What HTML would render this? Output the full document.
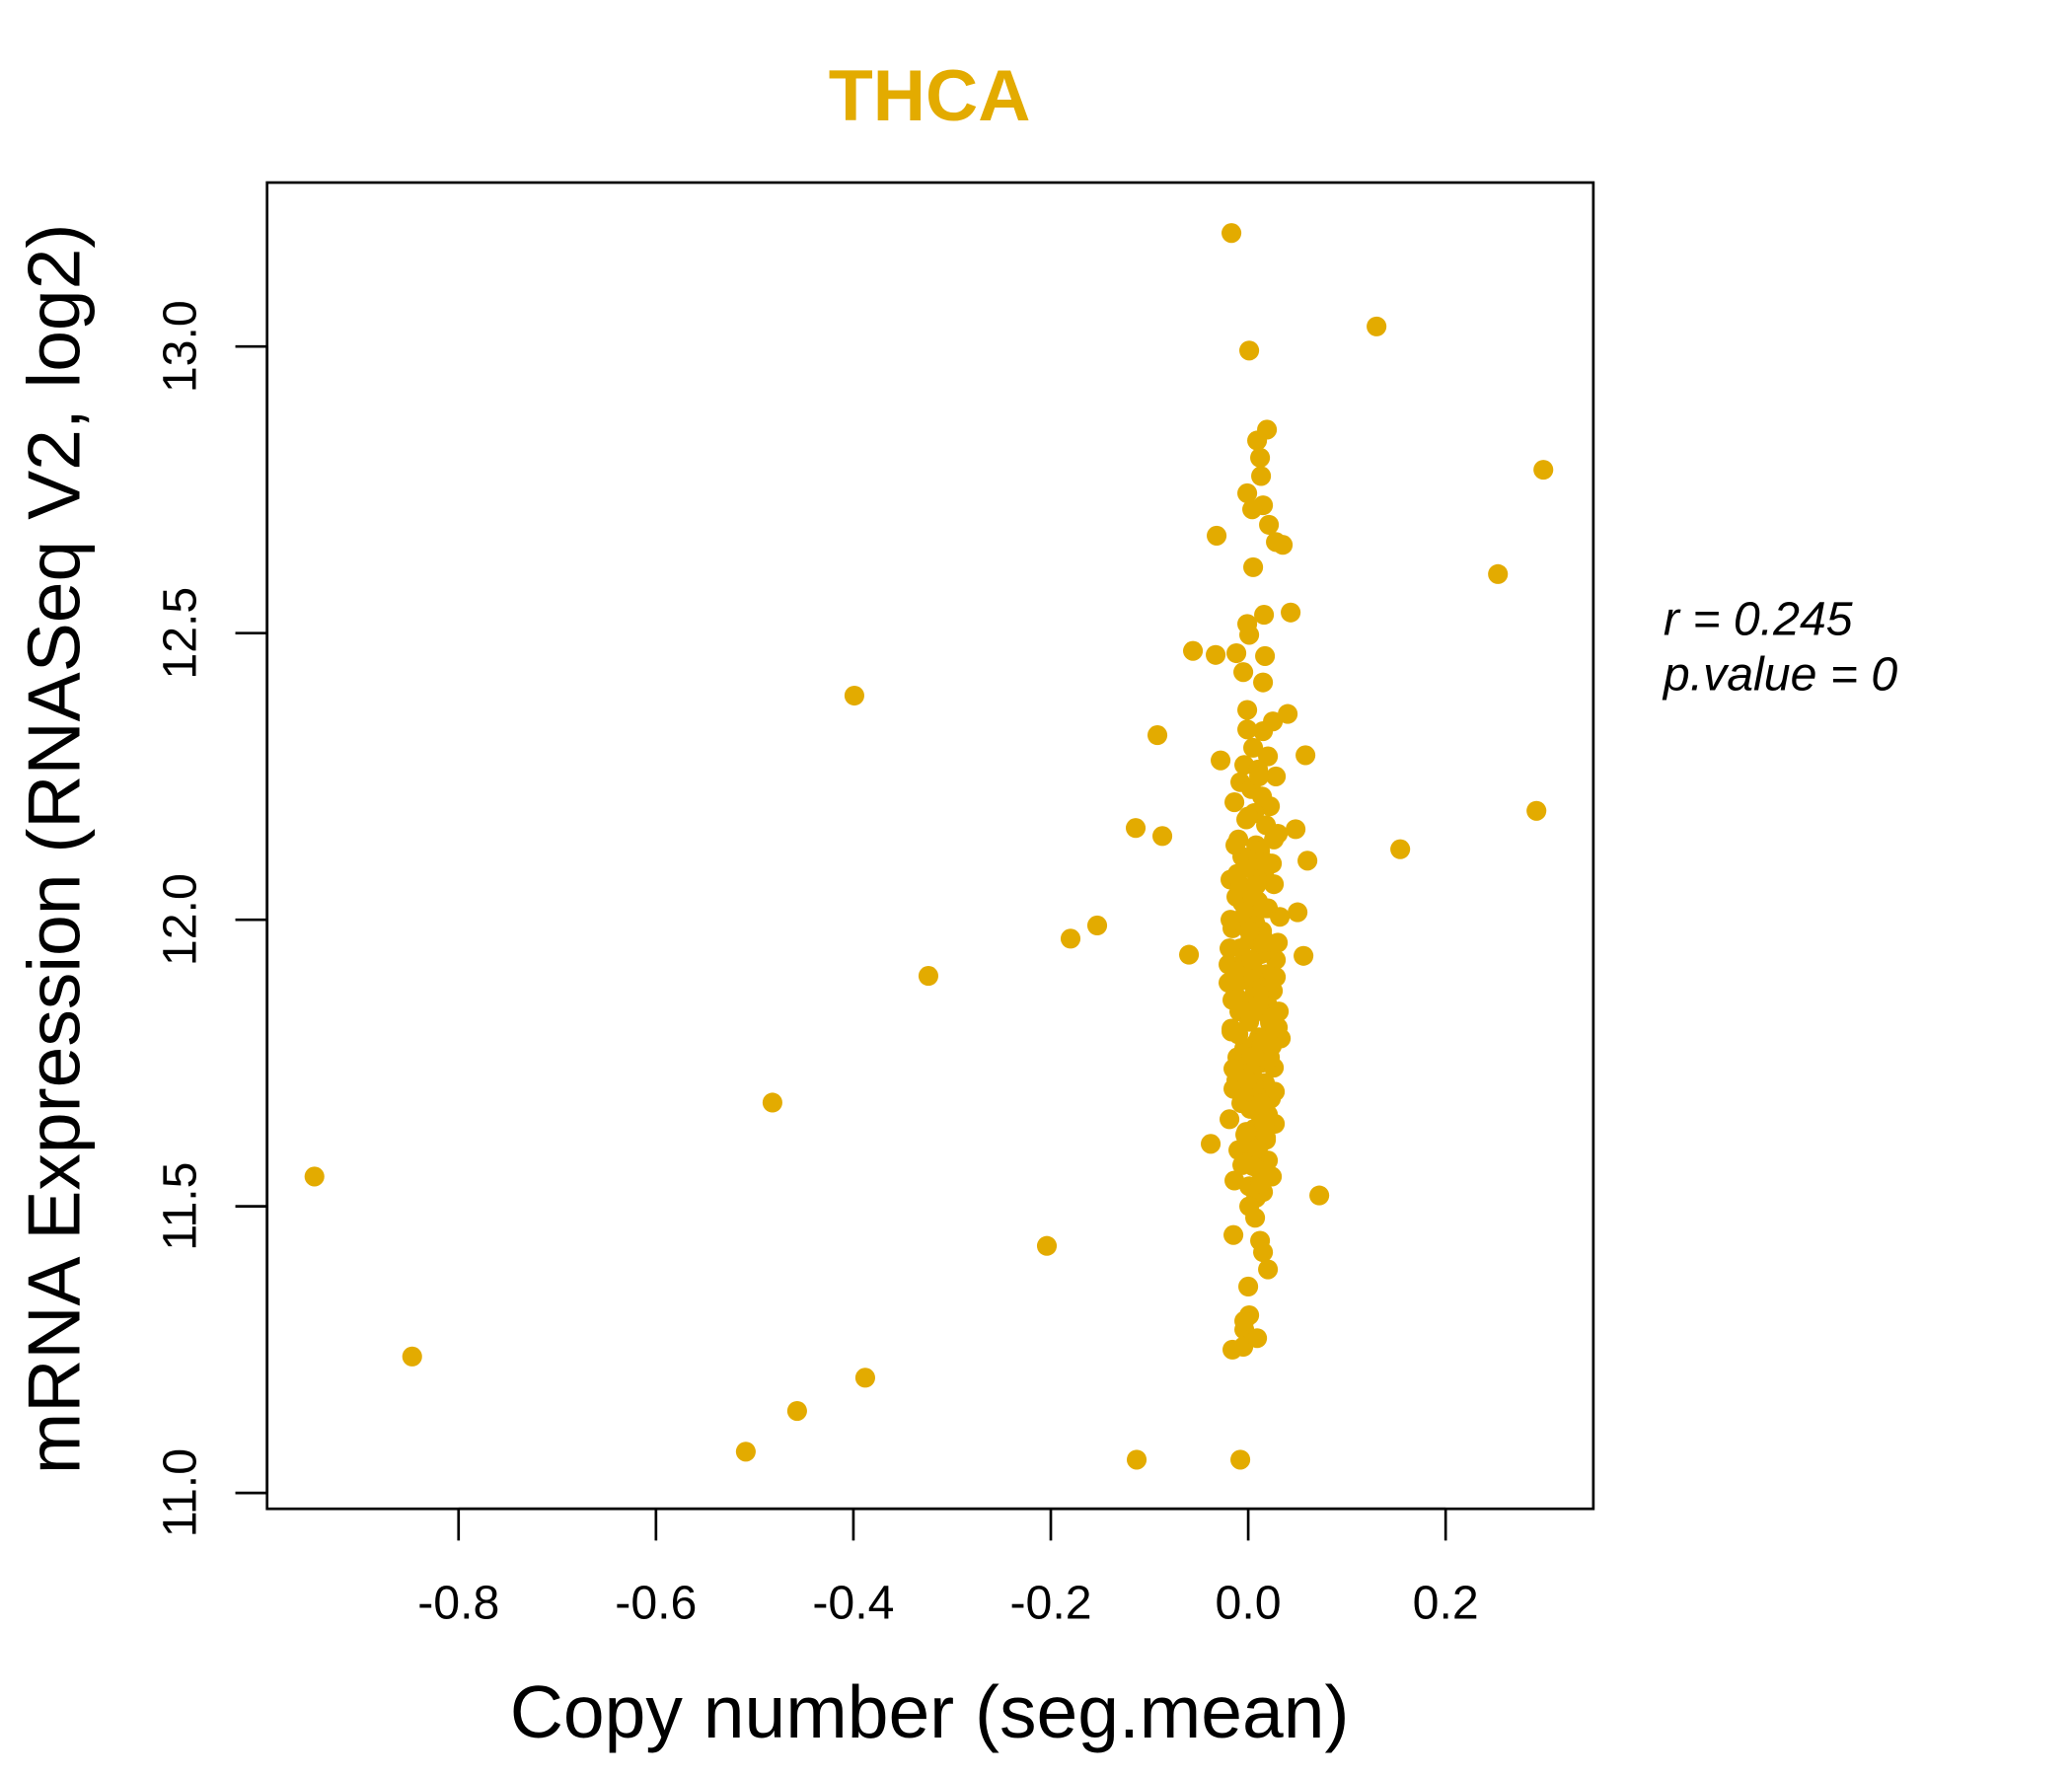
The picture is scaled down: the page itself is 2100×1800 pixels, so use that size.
<!DOCTYPE html>
<html><head><meta charset="utf-8"><style>
html,body{margin:0;padding:0;background:#fff}
svg{display:block}
text{font-family:"Liberation Sans",sans-serif}
</style></head><body>
<svg id="chart" width="2100" height="1800" viewBox="0 0 1567 1343" xmlns="http://www.w3.org/2000/svg">
<rect x="0" y="0" width="1567" height="1343" fill="#fff"/>
<text x="703" y="91" text-anchor="middle" font-size="55" font-weight="bold" fill="#e3ab00">THCA</text>
<g id="points"></g>
<rect x="202" y="138" width="1003" height="1003" fill="none" stroke="#000" stroke-width="2"/>
<g id="xaxis"></g>
<g id="yaxis"></g>
<text x="703" y="1314" text-anchor="middle" font-size="56">Copy number (seg.mean)</text>
<text transform="translate(60,642) rotate(-90)" text-anchor="middle" font-size="56">mRNA Expression (RNASeq V2, log2)</text>
<text x="1258" y="480" font-size="36" font-style="italic">r = 0.245</text>
<text x="1258" y="522" font-size="36" font-style="italic">p.value = 0</text>
</svg>
<script>
const xTicks = [-0.8, -0.6, -0.4, -0.2, 0.0, 0.2];
const xTickLabels = ["-0.8", "-0.6", "-0.4", "-0.2", "0.0", "0.2"];
const yTicks = [11.0, 11.5, 12.0, 12.5, 13.0];
const yTickLabels = ["11.0", "11.5", "12.0", "12.5", "13.0"];
const copyNumber = [
-0.017,0.130,0.001,0.299,0.253,-0.032,-0.399,-0.092,0.292,0.154,-0.114,-0.087,-0.153,-0.180,-0.324,-0.060,-0.482,-0.946,-0.038,0.072,-0.204,-0.847,-0.388,-0.457,-0.509,-0.113,-0.008,-0.056,-0.033,0.043,-0.028,0.058,0.060,0.048,0.050,0.056,0.033,
0.019,0.009,0.012,0.013,-0.001,0.015,0.004,0.021,0.028,0.035,0.005,0.016,-0.001,0.001,-0.012,0.017,-0.005,0.015,-0.001,0.040,0.025,0.015,-0.001,
0.005,0.020,-0.004,0.010,0.028,-0.008,0.003,0.014,-0.014,0.022,0.006,-0.002,0.018,0.030,-0.010,0.008,0.012,-0.006,0.024,0.000,0.016,-0.018,0.026,0.004,-0.012,0.010,0.020,-0.003,0.032,0.007,-0.016,0.014,0.002,0.022,-0.008,0.012,0.028,-0.020,0.006,0.018,-0.005,0.010,0.025,-0.013,0.003,0.016,-0.009,0.021,0.001,0.030,-0.017,0.011,0.008,-0.004,0.019,-0.011,0.013,0.026,-0.002,0.005,0.017,-0.015,0.009,0.023,-0.007,0.002,0.014,-0.019,0.027,0.006,-0.003,0.018,0.011,-0.010,0.004,0.020,-0.006,0.012,0.024,-0.014,0.001,0.015,0.008,-0.001,0.019,0.003,-0.008,0.013,0.022,-0.004,0.007,
0.001,0.012,-0.015,0.015,0.020,0.000,0.001,-0.004,-0.005,-0.016,0.009,-0.004,0.003,0.018,-0.010,0.007,0.011,
0.000,0.010,-0.006,0.015,0.005,0.020,-0.010,0.008,0.003,0.012,-0.002,0.017,0.006,-0.008,0.013,0.002,0.009,-0.004,0.016,0.004,
-0.018,0.030,-0.020,0.025,-0.016,0.022,-0.012,0.027,-0.019,0.018,-0.014,0.031,-0.017,0.024,-0.011,0.020,-0.015,0.028,-0.013,0.026,
0.008,0.014,0.004,0.011,0.002,0.016,0.006,0.013,-0.002,0.009,0.005,0.012,0.001,0.015,0.007,0.010,0.003,0.018,-0.001,0.006
];
const expression = [
13.198,13.035,12.993,12.785,12.603,12.670,12.391,12.322,12.190,12.123,12.160,12.146,11.990,11.967,11.902,11.939,11.681,11.552,11.609,11.519,11.431,11.238,11.201,11.143,11.072,11.058,11.058,12.469,12.462,12.536,12.278,12.287,12.103,12.158,12.013,11.937,11.793,
12.855,12.836,12.806,12.774,12.744,12.723,12.716,12.689,12.659,12.654,12.615,12.532,12.516,12.497,12.465,12.460,12.432,12.414,12.366,12.359,12.346,12.329,12.332,
12.300,12.285,12.270,12.262,12.250,12.240,12.228,12.215,12.205,12.198,12.186,12.175,12.165,12.150,12.140,12.130,12.120,12.110,12.098,12.090,12.080,12.070,12.062,12.050,12.040,12.032,12.020,12.012,12.005,11.995,11.985,11.975,11.965,11.958,11.950,11.940,11.930,11.922,11.912,11.905,11.895,11.885,11.876,11.868,11.860,11.850,11.840,11.830,11.822,11.812,11.805,11.795,11.785,11.776,11.768,11.760,11.750,11.742,11.732,11.724,11.715,11.705,11.696,11.688,11.680,11.670,11.660,11.652,11.644,11.635,11.625,11.616,11.606,11.598,11.590,11.580,11.572,11.562,11.552,11.545,11.535,11.525,11.515,12.010,11.880,11.760,12.060,11.940,11.820,11.700,
11.480,11.500,11.440,11.450,11.420,11.390,11.360,11.310,11.285,11.255,11.250,11.270,11.300,11.580,11.620,11.730,11.990,
12.250,12.180,12.100,12.030,11.960,11.900,11.850,11.800,11.750,11.700,11.660,11.620,11.560,11.870,11.920,11.780,11.830,12.070,11.990,11.640,
12.040,12.000,11.960,11.890,11.820,11.860,11.760,11.720,11.700,11.950,12.020,11.910,11.840,11.810,11.780,12.080,11.660,11.740,11.900,12.130,
12.140,12.060,11.980,11.910,11.870,11.830,11.790,11.710,11.680,11.630,11.600,11.570,11.540,11.980,12.020,11.760,11.850,11.930,12.100,11.720
];
const X0 = 944, XS = 746.5, Y0 = 695.5, YS = 433.5;
function xScale(v){ return X0 + v * XS; }
function yScale(v){ return Y0 - (v - 12) * YS; }
const NS = "http://www.w3.org/2000/svg";
const pts = document.getElementById('points');
const n = Math.min(copyNumber.length, expression.length);
for (let i = 0; i < n; i++) {
  const c = document.createElementNS(NS, 'circle');
  c.setAttribute('cx', xScale(copyNumber[i]));
  c.setAttribute('cy', yScale(expression[i]));
  c.setAttribute('r', 7.5);
  c.setAttribute('fill', '#e3ab00');
  
  
  pts.appendChild(c);
}
const xa = document.getElementById('xaxis');
const xl = document.createElementNS(NS, 'line');
xl.setAttribute('x1', xScale(xTicks[0])); xl.setAttribute('x2', xScale(xTicks[xTicks.length-1]));
xl.setAttribute('y1', 1141); xl.setAttribute('y2', 1141);
xl.setAttribute('stroke', '#000'); xl.setAttribute('stroke-width', 2);


xa.appendChild(xl);
xTicks.forEach((t, i) => {
  const l = document.createElementNS(NS, 'line');
  l.setAttribute('x1', xScale(t)); l.setAttribute('x2', xScale(t));
  l.setAttribute('y1', 1141); l.setAttribute('y2', 1165);
  l.setAttribute('stroke', '#000'); l.setAttribute('stroke-width', 2);
  
  
  xa.appendChild(l);
  const tx = document.createElementNS(NS, 'text');
  tx.setAttribute('x', xScale(t)); tx.setAttribute('y', 1224);
  tx.setAttribute('text-anchor', 'middle'); tx.setAttribute('font-size', '36');
  tx.textContent = xTickLabels[i];
  
  
  xa.appendChild(tx);
});
const ya = document.getElementById('yaxis');
const yl = document.createElementNS(NS, 'line');
yl.setAttribute('x1', 202); yl.setAttribute('x2', 202);
yl.setAttribute('y1', yScale(yTicks[0])); yl.setAttribute('y2', yScale(yTicks[yTicks.length-1]));
yl.setAttribute('stroke', '#000'); yl.setAttribute('stroke-width', 2);


ya.appendChild(yl);
yTicks.forEach((t, i) => {
  const l = document.createElementNS(NS, 'line');
  l.setAttribute('x1', 178); l.setAttribute('x2', 202);
  l.setAttribute('y1', yScale(t)); l.setAttribute('y2', yScale(t));
  l.setAttribute('stroke', '#000'); l.setAttribute('stroke-width', 2);
  
  
  ya.appendChild(l);
  const tx = document.createElementNS(NS, 'text');
  tx.setAttribute('transform', 'translate(148,' + yScale(t) + ') rotate(-90)');
  tx.setAttribute('text-anchor', 'middle'); tx.setAttribute('font-size', '36');
  tx.textContent = yTickLabels[i];
  
  
  ya.appendChild(tx);
});
</script>
</body></html>
